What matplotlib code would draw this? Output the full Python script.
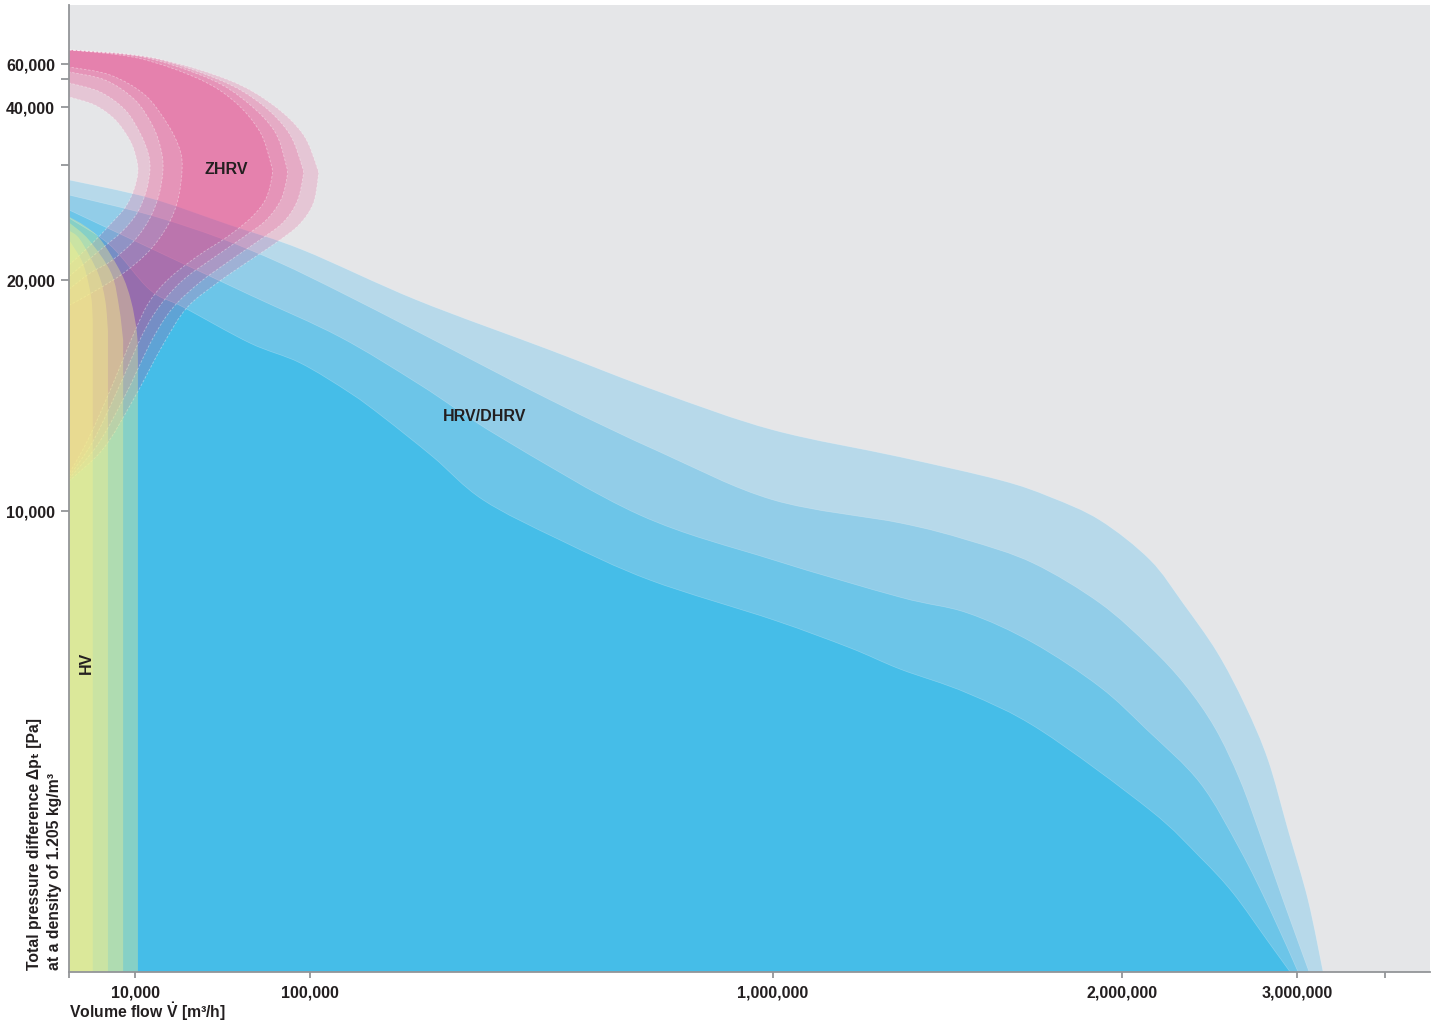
import numpy as np
import matplotlib
matplotlib.use("Agg")
import matplotlib.pyplot as plt
from matplotlib.path import Path
from matplotlib.patches import PathPatch
from matplotlib.ticker import FixedLocator, FixedFormatter, NullLocator

plt.rcParams["font.family"] = ["Liberation Sans", "DejaVu Sans"]
plt.rcParams["font.weight"] = "bold"
plt.rcParams["mathtext.fontset"] = "custom"
plt.rcParams["mathtext.rm"] = "Liberation Sans:bold"
plt.rcParams["mathtext.bf"] = "Liberation Sans:bold"
plt.rcParams["mathtext.default"] = "rm"

# ---------------------------------------------------------------- data
# volume flow [m3/h] / total pressure [Pa]
hrv1_x = [0, 17700, 58900, 96400, 308000, 566500, 780300, 1000000, 1363900, 1650400, 1793700,
          1936900, 2160000, 2348600, 2542900, 2702900, 2834300, 2948600, 3062500, 3147700]
hrv1_y = [28700, 27130, 24780, 22610, 19130, 16970, 15150, 13510, 12340, 11340, 10610,
          9800, 8940, 8000, 6940, 5790, 4600, 3080, 1560, 0]
hrv2_x = [0, 17700, 53700, 84600, 158300, 313800, 566500, 780300, 1000000, 1363900, 1555900,
          1745000, 1936900, 2160000, 2360000, 2531400, 2674300, 2800000, 2920000, 3068200]
hrv2_y = [27390, 25650, 23650, 21480, 19480, 17710, 14810, 12550, 10480, 9740, 9370,
          8870, 8000, 7050, 6230, 5290, 4160, 2860, 1560, 0]
hrv3_x = [0, 17700, 69100, 158300, 313800, 469300, 741500, 1000000, 1363900, 1555900,
          1745000, 1936900, 2142900, 2445700, 2674300, 2845700, 3005700]
hrv3_y = [26090, 22780, 19350, 17530, 15460, 13200, 9910, 8940, 8130, 7790,
          7140, 6180, 5250, 4100, 2650, 1350, 0]
hrv4_x = [0, 6200, 17700, 34700, 69100, 94900, 177800, 241900, 339100, 436300, 586000,
          760900, 1000000, 1220600, 1363900, 1555900, 1765000, 2160000, 2445700, 2634300,
          2828600, 2960000]
hrv4_y = [25390, 23040, 19570, 18830, 17270, 16410, 15110, 14070, 12340, 10480, 9370,
          8500, 7640, 7030, 6570, 6050, 5250, 3510, 2490, 1710, 690, 0]

# HV: top edge of each range, the right end drops straight to the axis
hv1_x = [0, 2400, 4800, 7900, 9400, 11000, 11500]
hv1_y = [25500, 24700, 23500, 20600, 19100, 17700, 16500]
hv2_x = [0, 3000, 6400, 7600, 8200]
hv2_y = [25000, 23500, 20600, 18800, 17400]
hv3_x = [0, 1700, 4400, 5500, 5900]
hv3_y = [24300, 23500, 20600, 19100, 17800]
hv4_x = [0, 2000, 3000, 3500, 3600]
hv4_y = [23500, 21600, 19800, 18900, 17800]

# ZHRV: horseshoe ranges, outer edge (top-left round to bottom-left) and inner edge
zhrv1_out_x = [0, 11500, 42900, 61400, 74300, 79900, 80500, 77400, 70200, 57800, 42400,
               28000, 17700, 10000, 6200, 2900, 0]
zhrv1_out_y = [62400, 61000, 50000, 41800, 35700, 30200, 29100, 27100, 25500, 23800, 22100,
               20200, 19100, 17800, 15200, 13100, 11600]
zhrv1_in_x = [0, 6200, 15100, 27000, 33100, 34200, 32100, 27000, 17700, 8500, 4400, 0]
zhrv1_in_y = [58000, 52700, 44300, 36900, 32600, 29600, 27000, 24800, 22600, 20700, 19600, 18900]

zhrv2_out_x = [0, 13600, 48600, 68100, 82000, 87700, 88200, 85100, 77400, 65500, 50100,
               34700, 22900, 13600, 7300, 3600, 0]
zhrv2_out_y = [62400, 61200, 50000, 41400, 35700, 30000, 29000, 27000, 25200, 23700, 21900,
               20000, 18900, 17600, 15200, 13000, 11500]
zhrv2_in_x = [0, 5500, 10000, 19300, 23400, 24400, 22300, 17700, 10000, 6500, 3200, 0]
zhrv2_in_y = [54700, 49600, 42500, 36600, 32600, 29600, 27400, 25400, 23500, 21700, 20600, 19600]

zhrv3_out_x = [0, 16700, 53700, 74800, 89200, 95900, 96400, 93300, 86100, 74300, 58900,
               43400, 29500, 18700, 8500, 4400, 0]
zhrv3_out_y = [62400, 61200, 49600, 41100, 35500, 29900, 29000, 26800, 25000, 23500, 21700,
               19900, 18800, 17400, 15000, 12900, 11400]
zhrv3_in_x = [0, 4700, 8500, 12600, 16700, 17700, 15700, 11000, 8000, 4700, 0]
zhrv3_in_y = [48600, 45400, 39500, 35500, 32100, 29600, 27700, 25800, 24200, 22600, 20300]

zhrv4_out_x = [0, 19800, 58300, 81000, 96400, 113600, 115600, 105800, 94300, 83000, 68100,
               52700, 36700, 24400, 9700, 5200, 0]
zhrv4_out_y = [62400, 61000, 49600, 40700, 35300, 29800, 28900, 26600, 24800, 23300, 21600,
               19900, 18800, 17200, 14800, 12700, 11300]
zhrv4_in_x = [0, 3900, 7000, 9200, 10500, 11500, 9800, 8500, 6200, 3200, 0]
zhrv4_in_y = [43600, 40700, 37800, 34300, 31400, 29400, 27800, 26300, 24800, 23000, 21300]

x_ticks = [0, 10000, 100000, 1000000, 2000000, 3000000, 3500000]
x_ticklabels = ["", "10,000", "100,000", "1,000,000", "2,000,000", "3,000,000", ""]
y_ticks = [10000, 20000, 30000, 40000, 50000, 60000]
y_ticklabels = ["10,000", "20,000", "", "40,000", "", "60,000"]

# ---------------------------------------------------------------- scale
# the printed axes are stretched by hand: piecewise between the tick values
X_AT = [-100000, 0, 10000, 100000, 1e6, 2e6, 3e6, 3.5e6, 10e6]
X_POS = [-660, 0, 66, 241, 704, 1053, 1228, 1316, 2460]
Y_AT = [-10000, 0, 10000, 20000, 30000, 40000, 50000, 60000, 70000, 200000]
Y_POS = [-461, 0, 461, 692, 807, 865, 893, 908, 967, 1734]


def fx(v):
    return np.interp(v, X_AT, X_POS)


def ix(p):
    return np.interp(p, X_POS, X_AT)


def fy(v):
    return np.interp(v, Y_AT, Y_POS)


def iy(p):
    return np.interp(p, Y_POS, Y_AT)


def smooth(xs, ys):
    """Bezier path through the read points (Catmull-Rom, done in scaled space)."""
    P = np.c_[fx(np.asarray(xs, float)), fy(np.asarray(ys, float))]
    n = len(P)
    verts, codes = [P[0]], [Path.MOVETO]
    for i in range(n - 1):
        p0 = P[i - 1] if i > 0 else P[i]
        p1, p2 = P[i], P[i + 1]
        p3 = P[i + 2] if i + 2 < n else P[i + 1]
        verts += [p1 + (p2 - p0) / 6, p2 - (p3 - p1) / 6, p2]
        codes += [Path.CURVE4] * 3
    verts = np.array(verts)
    return np.c_[ix(verts[:, 0]), iy(verts[:, 1])], codes


def join(*parts):
    vs, cs = [], []
    for k, (v, c) in enumerate(parts):
        c = list(c)
        if k > 0 and c[0] == Path.MOVETO:
            c[0] = Path.LINETO
        vs.append(np.asarray(v, float))
        cs += c
    vs.append([[0, 0]])
    cs.append(Path.CLOSEPOLY)
    return Path(np.vstack(vs), cs)


GREY_BG = "#E5E6E8"
AXIS_C = "#939598"
TXT = "#231F20"
BLUES = ["#B7D9EA", "#92CDE8", "#6CC5E8", "#45BDE8"]
PINK = "#E62477"
HVC = "#FAF28C"

fig = plt.figure(figsize=(14.34, 10.22), dpi=100)
ax = fig.add_axes([69 / 1434, 50 / 1022, 1361 / 1434, 967 / 1022])
ax.set_facecolor(GREY_BG)
ax.set_xscale("function", functions=(fx, ix))
ax.set_yscale("function", functions=(fy, iy))

# HRV/DHRV, largest range at the back
for bx, by, c in zip([hrv1_x, hrv2_x, hrv3_x, hrv4_x], [hrv1_y, hrv2_y, hrv3_y, hrv4_y], BLUES):
    top = smooth(bx, by)
    ax.add_patch(PathPatch(join(top, ([[0, 0]], [Path.LINETO])), fc=c, lw=0, zorder=1))
    ax.add_patch(PathPatch(Path(*top), fill=False, ec="white", lw=0.5, alpha=0.25, zorder=1.1))

# ZHRV, translucent overlapping ranges
zh = [(zhrv1_out_x, zhrv1_out_y, zhrv1_in_x, zhrv1_in_y),
      (zhrv2_out_x, zhrv2_out_y, zhrv2_in_x, zhrv2_in_y),
      (zhrv3_out_x, zhrv3_out_y, zhrv3_in_x, zhrv3_in_y),
      (zhrv4_out_x, zhrv4_out_y, zhrv4_in_x, zhrv4_in_y)]
for ox, oy, inx, iny in zh:
    outer = smooth(ox, oy)
    inner = smooth(inx[::-1], iny[::-1])
    ax.add_patch(PathPatch(join(outer, inner), fc=PINK, alpha=0.165, lw=0, zorder=2))
    for part in (outer, inner):
        ax.add_patch(PathPatch(Path(*part), fill=False, ec="white", lw=0.6, alpha=0.4,
                               ls=(0, (3, 2)), zorder=2.1))

# HV, translucent on top
for hx, hy in zip([hv1_x, hv2_x, hv3_x, hv4_x], [hv1_y, hv2_y, hv3_y, hv4_y]):
    top = smooth(hx, hy)
    path = join(top, ([[hx[-1], 0], [0, 0]], [Path.LINETO, Path.LINETO]))
    ax.add_patch(PathPatch(path, fc=HVC, alpha=0.36, lw=0, zorder=3))

ax.set_xlim(0, 3755000)
ax.set_ylim(0, 70000)

for s in ["top", "right"]:
    ax.spines[s].set_visible(False)
for s in ["left", "bottom"]:
    ax.spines[s].set_color(AXIS_C)
    ax.spines[s].set_linewidth(1.3)
    ax.spines[s].set_zorder(6)

ax.xaxis.set_major_locator(FixedLocator(x_ticks))
ax.xaxis.set_major_formatter(FixedFormatter(x_ticklabels))
ax.yaxis.set_major_locator(FixedLocator(y_ticks))
ax.yaxis.set_major_formatter(FixedFormatter(y_ticklabels))
ax.xaxis.set_minor_locator(NullLocator())
ax.yaxis.set_minor_locator(NullLocator())
ax.tick_params(axis="x", length=4.5, width=1.3, color=AXIS_C, pad=5,
               labelsize=11.5, labelcolor=TXT)
ax.tick_params(axis="y", length=6, width=1.3, color=AXIS_C, pad=4,
               labelsize=11.5, labelcolor=TXT)

ax.text(56800, 29600, "ZHRV", ha="center", va="center", fontsize=11.5, color=TXT, zorder=5)
ax.text(440200, 14100, "HRV/DHRV", ha="center", va="center", fontsize=11.5, color=TXT, zorder=5)
ax.text(2600, 6700, "HV", ha="center", va="center", rotation=90, fontsize=11.5,
        color=TXT, zorder=5)

fig.text(69 / 1434, 1 - 1012 / 1022, r"Volume flow $\dot{V}$ [m³/h]", ha="left", va="center",
         fontsize=11.3, color=TXT)
fig.text(35 / 1434, 1 - 970 / 1022, "Total pressure difference \u0394p\u209c [Pa]", rotation=90,
         ha="center", va="bottom", fontsize=11.3, color=TXT)
fig.text(55 / 1434, 1 - 970 / 1022, "at a density of 1.205 kg/m\u00b3", rotation=90,
         ha="center", va="bottom", fontsize=11.3, color=TXT)

fig.savefig("out.png", dpi=100, facecolor="white")
